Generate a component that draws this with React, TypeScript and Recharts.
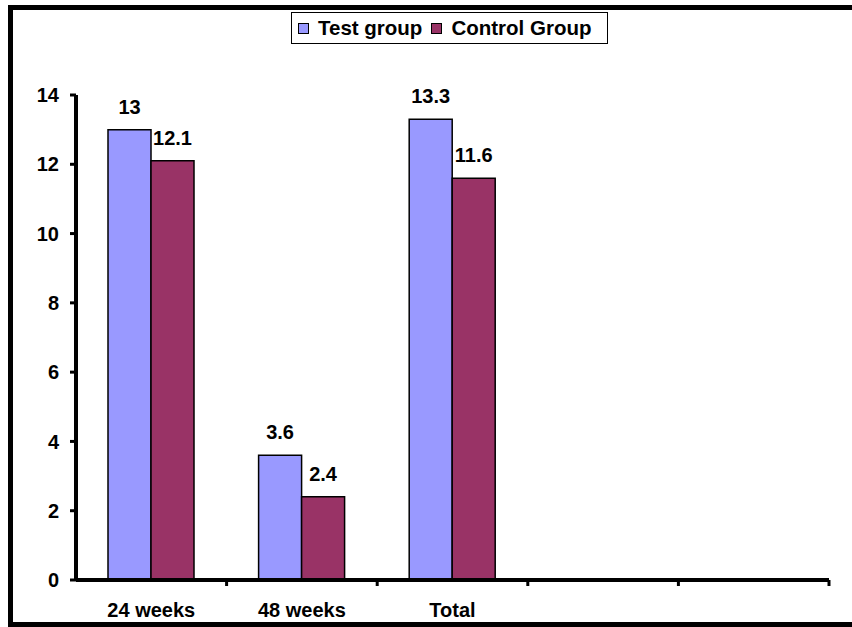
import { BarChart, Bar, XAxis, YAxis, Legend, LabelList } from 'recharts';

const CATEGORIES = ['24 weeks', '48 weeks', 'Total', '', ''];
const TEST_GROUP = [13, 3.6, 13.3, null, null];
const CONTROL_GROUP = [12.1, 2.4, 11.6, null, null];
const Y_TICKS = [0, 2, 4, 6, 8, 10, 12, 14];

const SERIES = [
    { key: 'test', name: 'Test group', color: '#9999ff', values: TEST_GROUP },
    { key: 'control', name: 'Control Group', color: '#993366', values: CONTROL_GROUP },
];

const data = CATEGORIES.map((name, i) => {
    const row: any = { name };
    SERIES.forEach(s => { row[s.key] = s.values[i]; });
    return row;
});

const FONT = "'Liberation Sans', Arial, sans-serif";
const W = 852;
const H = 627;
const MARGIN = { top: 95, right: 23, bottom: 0, left: 0 };
const Y_AXIS_W = 76;
const CAT_W = (W - MARGIN.left - MARGIN.right - Y_AXIS_W) / CATEGORIES.length;

// category label in the middle, tick mark on the right edge of the band
const CategoryTick = ({ x, y, payload }: any) => (
    <g>
        <line x1={x + CAT_W / 2} y1={y} x2={x + CAT_W / 2} y2={y + 6} stroke="#000" strokeWidth={3} />
        <text x={x} y={y + 37} textAnchor="middle" fill="#000" fontSize={20} fontWeight="bold" fontFamily={FONT}>
            {payload.value}
        </text>
    </g>
);

// legend items in series order, with a black-edged square swatch
const LegendBox = () => (
    <div style={{ display: 'flex', alignItems: 'center', height: '100%', paddingLeft: 6, fontFamily: FONT, fontWeight: 'bold', fontSize: 20.5, color: '#000' }}>
        {SERIES.map(s => (
            <div key={s.key} style={{ display: 'flex', alignItems: 'center', marginRight: 9 }}>
                <span style={{ width: 11, height: 11, boxSizing: 'border-box', border: '1.5px solid #000', background: s.color, marginRight: 9 }} />
                <span style={{ lineHeight: 1 }}>{s.name}</span>
            </div>
        ))}
    </div>
);

export default function App() {
    return (
        <div style={{ position: 'absolute', left: 0, top: 0, width: W, height: H, overflow: 'hidden', background: '#fff' }}>
            <div style={{ position: 'absolute', left: 8, top: 5, width: 1200, height: 622, border: '5px solid #000', boxSizing: 'border-box' }} />
            <div style={{ position: 'absolute', left: 0, top: 0 }}>
                <BarChart width={W} height={H} data={data} margin={MARGIN} barGap={0} barSize={43}>
                    <XAxis
                        dataKey="name"
                        height={47}
                        interval={0}
                        tickSize={0}
                        tickMargin={0}
                        axisLine={{ stroke: '#000', strokeWidth: 4 }}
                        tickLine={false}
                        tick={<CategoryTick />}
                    />
                    <YAxis
                        width={Y_AXIS_W}
                        domain={[0, 14]}
                        ticks={Y_TICKS}
                        interval={0}
                        tickSize={6}
                        tickMargin={11}
                        axisLine={{ stroke: '#000', strokeWidth: 4 }}
                        tickLine={{ stroke: '#000', strokeWidth: 3 }}
                        tick={{ fill: '#000', fontSize: 20, fontWeight: 'bold', fontFamily: FONT }}
                    />
                    <Legend
                        layout="horizontal"
                        align="center"
                        verticalAlign="middle"
                        content={<LegendBox />}
                        wrapperStyle={{ top: 12, left: 291, width: 317, height: 32, border: '1px solid #000', background: '#fff', boxSizing: 'border-box' }}
                    />
                    {SERIES.map(s => (
                        <Bar key={s.key} dataKey={s.key} name={s.name} fill={s.color} stroke="#000" strokeWidth={1.5} isAnimationActive={false}>
                            <LabelList
                                dataKey={s.key}
                                position="top"
                                offset={16}
                                formatter={(v: any) => (v == null ? '' : v)}
                                fill="#000"
                                fontSize={20}
                                fontWeight="bold"
                                fontFamily={FONT}
                            />
                        </Bar>
                    ))}
                </BarChart>
            </div>
        </div>
    );
}
